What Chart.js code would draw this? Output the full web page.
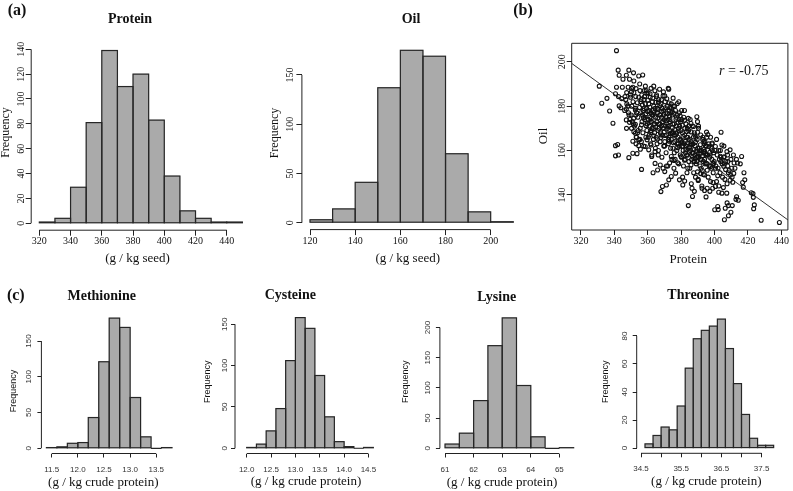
<!DOCTYPE html>
<html>
<head>
<meta charset="utf-8">
<script src="https://cdn.jsdelivr.net/npm/chart.js@4.4.1/dist/chart.umd.min.js"></script>
<style>
  body { margin: 0; background: #fff; }
  #wrap { position: relative; width: 793px; height: 491px; overflow: hidden; background: #fff; }
  #wrap canvas { position: absolute; left: 0; top: 0; }
</style>
</head>
<body>
<div id="wrap">
  <canvas id="cProtein" width="793" height="491"></canvas>
  <canvas id="cOil" width="793" height="491"></canvas>
  <canvas id="cScatter" width="793" height="491"></canvas>
  <canvas id="cMet" width="793" height="491"></canvas>
  <canvas id="cCys" width="793" height="491"></canvas>
  <canvas id="cLys" width="793" height="491"></canvas>
  <canvas id="cThr" width="793" height="491"></canvas>
</div>
<script>
// ---- histogram data (left bin edge + count) ----
const proteinBins = [320, 330, 340, 350, 360, 370, 380, 390, 400, 410, 420, 430, 440];
const proteinCounts = [1, 4, 29, 81, 139, 110, 120, 83, 38, 10, 4, 1, 1];
const oilBins = [120, 130, 140, 150, 160, 170, 180, 190, 200];
const oilCounts = [3, 14, 41, 137, 175, 169, 70, 11, 1];
const metBins = [11.4, 11.6, 11.8, 12.0, 12.2, 12.4, 12.6, 12.8, 13.0, 13.2, 13.4, 13.6];
const metCounts = [1, 2, 7, 8, 43, 121, 182, 169, 71, 16, 0, 1];
const cysBins = [12.0, 12.2, 12.4, 12.6, 12.8, 13.0, 13.2, 13.4, 13.6, 13.8, 14.0, 14.2, 14.4];
const cysCounts = [1, 5, 21, 48, 106, 158, 145, 88, 38, 8, 2, 0, 1];
const lysBins = [61, 61.5, 62, 62.5, 63, 63.5, 64, 64.5, 65];
const lysCounts = [7, 25, 79, 170, 216, 104, 19, 0, 1];
const thrBins = [34.6, 34.8, 35.0, 35.2, 35.4, 35.6, 35.8, 36.0, 36.2, 36.4, 36.6, 36.8, 37.0, 37.2, 37.4, 37.6];
const thrCounts = [3, 9, 15, 13, 30, 57, 78, 84, 87, 92, 71, 46, 24, 7, 2, 2];

// ---- tick values / labels ----
const proteinTicks = [320, 340, 360, 380, 400, 420, 440];
const proteinFreqTicks = [0, 20, 40, 60, 80, 100, 120, 140];
const oilTicks = [120, 140, 160, 180, 200];
const oilFreqTicks = [0, 50, 100, 150];
const scatterXTicks = [320, 340, 360, 380, 400, 420, 440];
const scatterYTicks = [140, 160, 180, 200];
const metTicks = [11.5, 12.0, 12.5, 13.0, 13.5];
const metLabels = ['11.5', '12.0', '12.5', '13.0', '13.5'];
const metFreqTicks = [0, 50, 100, 150];
const cysTicks = [12.0, 12.5, 13.0, 13.5, 14.0, 14.5];
const cysLabels = ['12.0', '12.5', '13.0', '13.5', '14.0', '14.5'];
const cysFreqTicks = [0, 50, 100, 150];
const lysTicks = [61, 62, 63, 64, 65];
const lysLabels = ['61', '62', '63', '64', '65'];
const lysFreqTicks = [0, 50, 100, 150, 200];
const thrTicks = [34.5, 35.0, 35.5, 36.0, 36.5, 37.0, 37.5];
const thrLabels = ['34.5', '', '35.5', '', '36.5', '', '37.5'];
const thrFreqTicks = [0, 20, 40, 60, 80];

// ---- protein vs oil (g/kg seed) ----
const seedPairs = [
  [321,180],[331,189],[332.5,181.3],[335.6,183.5],[337.2,177.8],[339.2,172.3],[340.7,185.6],[341.3,205],[340.7,162.2],[342,162.7],
  [340.7,157.6],[342.5,158],[348.7,156.8],[342.3,196.2],[348.7,196.2],[342.9,193.9],[347.2,193.9],[351.5,195],[354.6,193.6],[357,194],
  [345.2,192.1],[349.1,192.1],[351.7,191.3],[341.3,188.5],[344.8,188.5],[348.3,188.5],[351.1,188.5],[353,187.9],[347.4,186.1],[350.3,186.5],
  [355.4,187],[357.9,187],[359.5,185.8],[342.5,184.3],[344.4,183.4],[346.4,184.3],[349.7,184],[352.8,184.3],[356,183],[367.1,187.6],
  [362,188],[363.6,189],[358.6,189],[365.3,184.3],[369.2,184.6],[372.6,187.6],[342.9,180.1],[343.9,179.3],[347.2,178.7],[352.6,178.2],
  [348.5,177],[350,176],[351.6,174.5],[347.2,173.8],[349.1,172.7],[352.6,171.8],[350.3,170],[351.7,168.5],[352.6,167.8],[353.3,166],
  [354.6,164.8],[351.1,164.2],[353,163],[354.6,162.2],[355.6,160.6],[353.6,158.6],[351.1,158.8],[356.3,151.5],[363.2,150],[370.2,150.5],
  [368.8,143.8],[367.9,141.5],[371.2,144.5],[372.6,146.8],[374.1,148.3],[376.7,149.8],[379,146.8],[381,144.5],[382.1,146.3],[384.3,135.2],
  [386.8,139.3],[386.5,143],[387.9,141.6],[390.2,146.5],[392.5,143],[394,142],[395.6,143],[397.2,141.6],[399.1,145.6],[401.9,148.6],
  [400.5,143.8],[400.1,133.3],[401.9,134.8],[404.4,140.8],[402.5,141.2],[405.3,143.3],[407.3,140.8],[406.4,134],[408.3,135.2],[405.9,128.8],
  [408.3,130.6],[409.8,132.2],[410.6,135.2],[412.8,138],[413.2,139.2],[410.9,145.7],[409.3,146.6],[411.5,149.7],[410.3,152],[408,155],
  [405.8,157.2],[407.4,159.5],[409.3,160.3],[411.7,154.4],[413.7,154.4],[416.2,157.3],[418.1,146.8],[417.2,143.5],[416.8,145.6],[414.2,137.6],
  [422,141],[423,140.6],[423.2,138.9],[423.8,135.5],[423.4,133.8],[427.9,128.6],[438.8,127.6],[394.9,139.1],[402.2,133.4],[407.5,136.4],
  [403.9,168.2],[400.5,161.8],[402.5,160],[404.4,162.5],[403.5,157.4],[405.5,152.9],[406.6,151.4],[399.6,154.3],[397.6,152.8],[395,154.3],
  [395.6,151.1],[393.3,149.2],[391.7,149.6],[389.8,150.4],[389.4,175.2],[389.8,173],[390.4,171],[387.4,170.8],[385.9,172.2],[384.3,174.5],
  [382,178],[378.6,182],[376.1,180],[374.1,181],[372.3,188],[370.2,184.6],[379,177],[380.4,174],[373.3,179.3],[374.7,177.5],
  [395.2,168.3],[396,167.2],[393,166],[394.2,164.2],[397.6,166],[398.6,163.4],[396.6,161.8],[393.7,160.6],[391.7,158.8],[394.7,158.6],
  [397.2,159.2],[389.8,157.4],[391.7,155.9],[387.9,155.2],[385.9,153.5],[384,152],[382,155.6],[380,157.3],[378,154.5],[375.7,155.5],
  [374.1,157.3],[373.1,154.4],[371.2,153],[369.2,152],[367.5,153.5],[365.9,151.2],[364.4,154.2],[362.4,157.3],[364.4,159.5],[366.3,158],
  [360.6,160.3],[358.5,161.8],[359.6,164.8],[362,162.5],[398.5,163],[401.2,165],[403.5,160],[405.6,162],[407.8,158],[409.8,156],
  [411.3,158],[413.1,156],[415.4,154],[417.6,150],[412.2,152],[410.5,148],
  // dense core
  [346.2,178],[347.5,181],[348.8,176],[349.4,174],[346.9,183],[348.1,180],[349.7,185],[347.3,170],
  [350.3,188],[351.2,182],[352.6,179],[353.4,177],[354.1,175],[350.8,173],[352.1,171],[353.9,168],[351.7,186],[354.6,184],
  [350.5,180],[352.9,176],[351.4,172],[354.3,169],[353.1,166],
  [355.2,190],[356.4,185],[357.8,183],[358.6,181],[359.3,179],[355.7,177],[356.9,176],[358.2,174],[359.7,172],[355.5,170],
  [357.1,168],[358.9,166],[356.2,164],[357.6,162],[359.1,187],[355.9,182],[357.3,178],[358.4,175],[356.6,173],[359.5,169],[355.3,165],
  [360.2,186],[361.5,184],[362.8,182],[363.6,180],[364.4,179],[360.7,178],[361.9,177],[363.1,176],[364.8,175],[360.4,174],
  [362.2,173],[363.9,172],[361.1,171],[362.6,170],[364.1,168],[360.9,167],[363.4,165],[361.7,163],[364.6,161],[362.4,158],
  [360.6,181],[363.3,178],[361.3,175],[364.2,172],[362.0,169],[360.3,166],
  [365.3,185],[366.6,183],[367.9,181],[368.7,179],[369.5,178],[365.8,177],[367.1,176],[368.3,175],[369.8,174],[365.5,173],
  [366.9,172],[368.1,171],[369.2,170],[366.2,169],[367.6,168],[368.9,167],[365.1,166],[367.4,164],[369.6,162],[366.4,160],
  [368.5,157],[365.9,179],[367.8,176],[369.1,173],[366.7,170],[368.0,167],[365.6,163],
  [370.4,182],[371.7,180],[372.9,178],[373.8,177],[374.6,176],[370.9,175],[372.2,174],[373.4,173],[374.9,172],[370.6,171],
  [371.9,170],[373.1,169],[374.3,168],[371.3,167],[372.7,166],[374.1,165],[370.2,164],[372.4,163],[373.7,161],[371.0,159],
  [374.5,156],[372.0,153],[370.8,177],[373.3,174],[371.6,171],[374.7,168],[372.5,165],[370.1,162],
  [375.3,180],[376.6,178],[377.9,176],[378.8,174],[379.6,173],[375.8,172],[377.1,171],[378.4,170],[379.9,169],[375.5,168],
  [376.8,167],[378.1,166],[379.3,165],[376.2,164],[377.6,163],[378.9,162],[375.1,161],[377.4,160],[379.5,158],[376.4,156],
  [378.6,154],[375.7,152],[377.2,175],[379.1,171],[376.0,167],[378.3,163],[375.9,159],
  [380.3,178],[381.6,175],[382.9,172],[383.7,170],[384.5,169],[380.8,168],[382.1,167],[383.3,166],[384.8,165],[380.5,164],
  [381.8,163],[383.0,162],[384.2,161],[381.2,160],[382.6,159],[383.9,158],[380.2,157],[382.4,156],[384.6,155],[381.4,153],
  [383.5,150],[380.9,148],[382.2,170],[384.0,166],[381.0,162],[383.2,158],
  [385.4,174],[386.7,171],[387.9,168],[388.8,166],[389.6,165],[385.9,164],[387.2,163],[388.4,162],[389.9,161],[385.6,160],
  [386.9,159],[388.1,158],[389.3,157],[386.3,156],[387.7,155],[389.0,154],[385.2,152],[387.5,150],[388.6,148],[386.1,145],
  [388.2,167],[385.8,163],[387.0,159],[389.4,155],
  [390.4,170],[391.7,167],[392.9,165],[393.8,163],[394.6,162],[390.9,161],[392.2,160],[393.4,159],[394.9,158],[390.6,157],
  [391.9,156],[393.1,155],[394.3,154],[391.3,153],[392.7,151],[394.1,149],[390.2,147],[392.4,144],[393.6,164],[391.1,160],
  [394.0,156],[392.0,152],
  [395.3,166],[396.6,163],[397.9,161],[398.7,160],[399.5,159],[395.8,158],[397.1,157],[398.4,156],[399.8,155],[395.5,154],
  [396.8,153],[398.1,152],[399.2,150],[396.2,148],[397.6,146],[398.9,143],[395.1,162],[397.3,158],[399.0,154],
  [400.3,160],[401.6,158],[402.9,156],[403.7,155],[404.5,154],[400.8,153],[402.1,152],[403.3,150],[404.8,148],[401.2,146],
  [402.6,144],[403.9,157],[400.5,152],
  [405.4,157],[406.7,155],[407.9,153],[408.8,151],[409.6,149],[406.2,147],[407.5,145],[405.9,154],[408.3,150],
  [353.8,181.5],[355.1,179.4],[356.8,180.6],[357.9,178.8],[358.8,176.5],[359.9,177.6],[361.2,179.5],[362.5,176.3],[363.8,177.1],[364.9,181.7],
  [366.1,178.4],[367.3,180.2],[368.4,177.7],[369.7,176.2],[370.5,179.3],[371.8,176.6],[373.0,175.4],[374.2,178.9],[375.6,176.8],[376.9,174.1],
  [378.2,172.7],[379.4,175.6],[380.7,171.4],[382.0,173.6],[383.4,168.6],[384.7,171.1],[386.0,168.4],[387.4,166.1],[388.6,163.8],[389.8,168.2],
  [356.3,171.6],[357.5,174.8],[359.0,171.2],[360.8,172.6],[362.1,174.4],[363.5,169.8],[364.7,170.6],[366.0,174.6],[367.2,171.8],[368.6,172.7],
  [369.9,168.4],[371.1,173.4],[372.3,170.9],[373.6,167.6],[374.8,170.3],[376.1,169.5],[377.3,167.8],[378.7,168.8],[379.8,164.6],[381.1,166.4],
  [382.5,164.1],[383.8,163.4],[385.1,161.6],[386.4,162.7],[387.6,160.4],[388.9,159.6],[390.1,158.6],[391.5,162.6],[392.8,157.6],[394.0,159.6],
  [358.1,184.3],[360.1,182.7],[361.4,185.6],[363.0,183.6],[364.3,186.9],[366.4,181.8],[368.2,182.9],[369.4,186.4],[371.4,183.3],[372.8,181.4],
  [375.2,183.6],[377.7,181.2],[361.8,168.1],[363.7,166.6],[365.8,165.2],[367.9,165.9],[370.4,166.8],[372.9,164.2],[375.4,163.5],[377.9,161.3],
  [380.6,161.8],[382.8,160.4],[384.9,159.2],[386.8,157.1],[388.3,156.4]
];
// fitted line, ends at the plot edges
const regLine = [[314.5, 199.25], [443.9, 128.75]];

const W = 793, H = 491;
const SERIF = "'Liberation Serif', 'Times New Roman', serif";
const SANS = "'Liberation Sans', Arial, sans-serif";

function rotText(ctx, s, x, y) {
  ctx.save();
  ctx.translate(x, y);
  ctx.rotate(-Math.PI / 2);
  ctx.fillText(s, 0, 0);
  ctx.restore();
}

// titles, rotated y labels, R-style axis lines and bar outlines
function panelText(o) {
  return {
    id: 'panelText',
    afterDatasetsDraw(chart) {
      if (!o.outline) return;
      // outline each bar once so neighbours share one edge (as hist() does)
      const ctx = chart.ctx;
      ctx.save();
      ctx.strokeStyle = '#262626';
      ctx.lineWidth = 1.2;
      chart.getDatasetMeta(0).data.forEach(bar => {
        const p = bar.getProps(['x', 'y', 'base', 'width'], true);
        ctx.strokeRect(p.x - p.width / 2, p.y, p.width, p.base - p.y);
      });
      ctx.restore();
    },
    afterDraw(chart) {
      const ctx = chart.ctx, a = chart.chartArea;
      const xs = chart.scales.x, ys = chart.scales.y;
      ctx.save();
      ctx.strokeStyle = '#222';
      ctx.lineWidth = 1;
      ctx.beginPath();
      if (o.box3) {
        ctx.rect(a.left, a.top, a.right - a.left, a.bottom - a.top);
      } else {
        ctx.moveTo(xs.getPixelForValue(o.xt[0]), a.bottom);
        ctx.lineTo(xs.getPixelForValue(o.xt[o.xt.length - 1]), a.bottom);
        ctx.moveTo(a.left, ys.getPixelForValue(o.yt[0]));
        ctx.lineTo(a.left, ys.getPixelForValue(o.yt[o.yt.length - 1]));
      }
      ctx.stroke();

      ctx.textAlign = 'center';
      ctx.textBaseline = 'middle';
      ctx.fillStyle = o.tickColor;
      ctx.font = o.ylFont;
      o.yt.forEach(v => rotText(ctx, String(v), o.ylx, ys.getPixelForValue(v)));

      ctx.fillStyle = '#111';
      ctx.font = o.ytitle.font;
      rotText(ctx, o.ytitle.text, o.ytitle.x, o.ytitle.y);
      ctx.font = o.xtitle.font;
      ctx.fillText(o.xtitle.text, o.xtitle.x, o.xtitle.y);
      if (o.title) {
        ctx.font = 'bold 14px ' + SERIF;
        ctx.fillText(o.title.text, o.title.x, o.title.y);
      }
      if (o.letter) {
        ctx.font = 'bold 16px ' + SERIF;
        ctx.fillText(o.letter.text, o.letter.x, o.letter.y);
      }
      if (o.extra) o.extra(ctx);
      ctx.restore();
    }
  };
}

function baseOptions(o) {
  const grid = { drawOnChartArea: false, offset: false, tickLength: o.tl, color: '#222', lineWidth: 1 };
  return {
    responsive: false,
    animation: false,
    events: [],
    layout: { padding: { left: o.box[0] - 20, top: o.box[1], right: W - o.box[2], bottom: H - o.box[3] - 20 } },
    plugins: { legend: { display: false }, tooltip: { enabled: false } },
    scales: {
      x: {
        type: 'linear', min: o.xr[0], max: o.xr[1], offset: false,
        afterBuildTicks: s => { s.ticks = o.xt.map(v => ({ value: v })); },
        afterFit: s => { s.height = 20; s.paddingLeft = 0; s.paddingRight = 0; },
        grid: grid,
        border: { display: false },
        ticks: {
          autoSkip: false, maxRotation: 0, minRotation: 0, padding: o.tpad,
          color: o.tickColor, font: o.tickFont,
          callback: (v, i) => o.xl[i]
        }
      },
      y: {
        type: 'linear', min: o.yr[0], max: o.yr[1],
        afterBuildTicks: s => { s.ticks = o.yt.map(v => ({ value: v })); },
        afterFit: s => { s.width = 20; s.paddingTop = 0; s.paddingBottom = 0; },
        grid: grid,
        border: { display: false },
        ticks: { display: false }
      }
    }
  };
}

function histChart(id, bins, width, counts, o) {
  const data = bins.map((b, i) => ({ x: b + width / 2, y: counts[i] }));
  o.outline = true;
  new Chart(document.getElementById(id), {
    type: 'bar',
    data: {
      datasets: [{
        data,
        backgroundColor: '#aaaaaa',
        borderWidth: 0,
        barPercentage: 1,
        categoryPercentage: 1
      }]
    },
    options: baseOptions(o),
    plugins: [panelText(o)]
  });
}

const row1 = {
  tl: 5.5, tpad: 0, tickColor: '#111',
  tickFont: { family: SERIF, size: 10 },
  ylFont: '10px ' + SERIF
};
const row2 = {
  tl: 4, tpad: 7, tickColor: '#333',
  tickFont: { family: SANS, size: 8 },
  ylFont: '8px ' + SANS
};

// (a) Protein
histChart('cProtein', proteinBins, 10, proteinCounts, Object.assign({}, row1, {
  box: [31.2, 43.6, 250.5, 230.2], xr: [314.8, 455.2], yr: [-5.56, 144.56],
  xt: proteinTicks, xl: proteinTicks.map(String), yt: proteinFreqTicks, ylx: 21,
  ytitle: { text: 'Frequency', x: 6, y: 132.5, font: '12px ' + SERIF },
  xtitle: { text: '(g / kg seed)', x: 137.5, y: 259, font: '13px ' + SERIF },
  title: { text: 'Protein', x: 130, y: 19 },
  letter: { text: '(a)', x: 17, y: 11 }
}));

// Oil
histChart('cOil', oilBins, 10, oilCounts, Object.assign({}, row1, {
  box: [301.9, 43.4, 521.4, 229.6], xr: [116.4, 213.6], yr: [-7, 182],
  xt: oilTicks, xl: oilTicks.map(String), yt: oilFreqTicks, ylx: 290.7,
  ytitle: { text: 'Frequency', x: 275, y: 133, font: '12px ' + SERIF },
  xtitle: { text: '(g / kg seed)', x: 407.7, y: 259, font: '13px ' + SERIF },
  title: { text: 'Oil', x: 411, y: 19 }
}));

// (b) scatter
const scatterOpt = Object.assign({}, row1, {
  box: [571.7, 43.3, 792.3, 230], xr: [314.5, 443.9], yr: [124.2, 208.3], tl: 5, tpad: 0.7, box3: true,
  xt: scatterXTicks, xl: scatterXTicks.map(String), yt: scatterYTicks, ylx: 562.3,
  ytitle: { text: 'Oil', x: 543.3, y: 136, font: '13px ' + SERIF },
  xtitle: { text: 'Protein', x: 688.3, y: 259.3, font: '13px ' + SERIF },
  letter: { text: '(b)', x: 523, y: 11 },
  extra: ctx => {
    ctx.textAlign = 'left';
    ctx.font = 'italic 14px ' + SERIF;
    ctx.fillText('r', 719, 71);
    const w = ctx.measureText('r').width;
    ctx.font = '14px ' + SERIF;
    ctx.fillText(' = -0.75', 719 + w, 71);
  }
});
new Chart(document.getElementById('cScatter'), {
  type: 'scatter',
  data: {
    datasets: [
      {
        data: seedPairs.map(p => ({ x: p[0], y: p[1] })),
        pointRadius: 2,
        pointBorderWidth: 1.1,
        pointBorderColor: '#111',
        pointBackgroundColor: 'rgba(0,0,0,0)'
      },
      {
        type: 'line',
        data: regLine.map(p => ({ x: p[0], y: p[1] })),
        borderColor: '#333',
        borderWidth: 1,
        pointRadius: 0
      }
    ]
  },
  options: baseOptions(scatterOpt),
  plugins: [panelText(scatterOpt)]
});

// (c) amino acids
histChart('cMet', metBins, 0.2, metCounts, Object.assign({}, row2, {
  box: [41.4, 312.9, 177, 453.5], xr: [11.304, 13.896], yr: [-7.28, 189.3],
  xt: metTicks, xl: metLabels, yt: metFreqTicks, ylx: 29,
  ytitle: { text: 'Frequency', x: 13.3, y: 391, font: '9px ' + SANS },
  xtitle: { text: '(g / kg crude protein)', x: 103.3, y: 482.3, font: '13px ' + SERIF },
  title: { text: 'Methionine', x: 101.7, y: 296.7 },
  letter: { text: '(c)', x: 15.8, y: 296 }
}));

histChart('cCys', cysBins, 0.2, cysCounts, Object.assign({}, row2, {
  box: [235, 312.4, 378.2, 453.5], xr: [11.76, 14.70], yr: [-6.32, 164.3],
  xt: cysTicks, xl: cysLabels, yt: cysFreqTicks, ylx: 224.3,
  ytitle: { text: 'Frequency', x: 207.3, y: 381.7, font: '9px ' + SANS },
  xtitle: { text: '(g / kg crude protein)', x: 306, y: 481.7, font: '13px ' + SERIF },
  title: { text: 'Cysteine', x: 290.3, y: 295.7 }
}));

histChart('cLys', lysBins, 0.5, lysCounts, Object.assign({}, row2, {
  box: [439.9, 312.7, 578.8, 453.5], xr: [60.82, 65.68], yr: [-8.64, 224.6],
  xt: lysTicks, xl: lysLabels, yt: lysFreqTicks, ylx: 427.3,
  ytitle: { text: 'Frequency', x: 406, y: 381.7, font: '9px ' + SANS },
  xtitle: { text: '(g / kg crude protein)', x: 502, y: 482.3, font: '13px ' + SERIF },
  title: { text: 'Lysine', x: 496.7, y: 297.3 }
}));

histChart('cThr', thrBins, 0.2, thrCounts, Object.assign({}, row2, {
  box: [636.7, 312.5, 778.8, 453.3], xr: [34.393, 37.928], yr: [-3.72, 96.72],
  xt: thrTicks, xl: thrLabels, yt: thrFreqTicks, ylx: 625,
  ytitle: { text: 'Frequency', x: 605.7, y: 381.7, font: '9px ' + SANS },
  xtitle: { text: '(g / kg crude protein)', x: 706.3, y: 481.7, font: '13px ' + SERIF },
  title: { text: 'Threonine', x: 698.3, y: 295 }
}));
</script>
</body>
</html>
